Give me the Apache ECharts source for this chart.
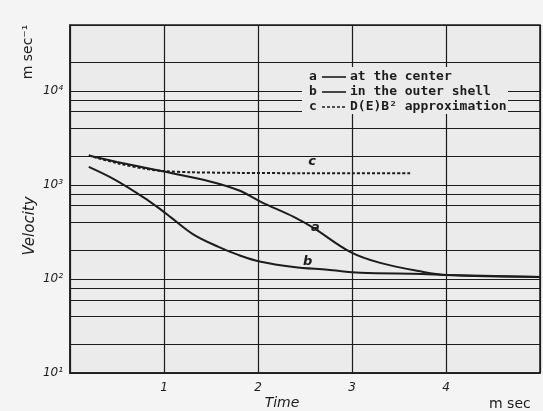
<!DOCTYPE html>
<html>
<head>
<meta charset="utf-8">
<style>
  html, body { margin: 0; padding: 0; background: #f4f4f4; }
  #chart { width: 543px; height: 411px; }
</style>
<script src="https://cdn.jsdelivr.net/npm/echarts@6/dist/echarts.min.js"></script>
</head>
<body>
<div id="chart"></div>
<script>
// Velocity (m sec^-1) against time (m sec), log scale
const timeA = [0.2, 0.5, 0.97, 1.5, 1.8, 2.03, 2.38, 2.59, 2.98, 3.3, 3.75, 4.0, 5.0];
const velA  = [2050, 1750, 1400, 1080, 870, 660, 457, 349, 194, 148, 119, 110, 105];

const timeB = [0.2, 0.48, 0.79, 0.97, 1.08, 1.32, 1.58, 1.79, 2.03, 2.38, 2.74, 3.09, 3.75, 4.0, 5.0];
const velB  = [1550, 1130, 728, 542, 446, 294, 219, 180, 152, 134, 125, 116, 113, 110, 105];

const timeC = [0.2, 0.5, 0.8, 1.0, 1.3, 1.8, 2.5, 3.0, 3.62];
const velC  = [2050, 1700, 1480, 1400, 1360, 1340, 1330, 1330, 1330];

// intermediate log grid lines (2, 4, 6, 8 of each decade)
const minorGrid = [20, 40, 60, 80, 200, 400, 600, 800, 2000, 4000, 6000, 8000, 20000];
const xTicks = [1, 2, 3, 4];

const ink = '#1c1c1c';
const sup = { '1': '¹', '2': '²', '3': '³', '4': '⁴' };

const curveLabelStyle = {
  show: true, color: ink, fontSize: 13, fontFamily: 'DejaVu Sans', fontStyle: 'italic', fontWeight: 'bold', opacity: 1
};

// curve letters, each anchored on a point of its own curve
const curveTags = [
  { value: [timeC[6], velC[6]], label: Object.assign({ formatter: 'c', position: 'top', offset: [7, 0] }, curveLabelStyle) },
  { value: [timeA[7], velA[7]], label: Object.assign({ formatter: 'a', position: 'inside', offset: [2, 0] }, curveLabelStyle) },
  { value: [timeB[9], velB[9]], label: Object.assign({ formatter: 'b', position: 'top', offset: [14, 6] }, curveLabelStyle) }
];

const legendFont = 'bold 13px "DejaVu Sans Mono"';

const chart = echarts.init(document.getElementById('chart'));
chart.setOption({
  animation: false,
  backgroundColor: '#f4f4f4',
  grid: {
    left: 70, right: 1, top: 25, bottom: 38,
    show: true, backgroundColor: '#ebebeb', borderColor: ink, borderWidth: 1.5
  },
  xAxis: {
    type: 'value', min: 0, max: 5, interval: 1,
    axisLine: { show: true, onZero: false, lineStyle: { color: ink, width: 1.5 } },
    axisTick: { show: false },
    splitLine: { show: true, lineStyle: { color: ink, width: 1.2 } },
    axisLabel: {
      margin: 9, color: ink, fontSize: 12, fontStyle: 'italic', fontFamily: 'DejaVu Sans',
      formatter: v => (xTicks.indexOf(v) >= 0 ? String(v) : '')
    }
  },
  yAxis: {
    type: 'log', logBase: 10, min: 10, max: 50000,
    axisLine: { show: true, lineStyle: { color: ink, width: 1.5 } },
    axisTick: { show: false },
    splitLine: { show: true, lineStyle: { color: ink, width: 1.2 } },
    axisLabel: {
      margin: 7, color: ink, fontSize: 12, fontStyle: 'italic', fontFamily: 'DejaVu Sans',
      formatter: v => {
        const e = Math.round(Math.log10(v));
        return Math.abs(Math.log10(v) - e) < 1e-6 && sup[String(e)] ? '10' + sup[String(e)] : '';
      }
    }
  },
  series: [
    {
      name: 'c', type: 'line', smooth: 0.3, symbol: 'none',
      lineStyle: { color: ink, width: 2, type: [3, 2] },
      data: timeC.map((x, i) => [x, velC[i]]),
      markLine: {
        silent: true, symbol: 'none', label: { show: false },
        lineStyle: { color: ink, width: 1.2, type: 'solid' },
        data: minorGrid.map(v => ({ yAxis: v }))
      },
      z: 3
    },
    {
      name: 'a', type: 'line', smooth: 0.35, symbol: 'none',
      lineStyle: { color: ink, width: 2 },
      data: timeA.map((x, i) => [x, velA[i]]),
      z: 4
    },
    {
      name: 'b', type: 'line', smooth: 0.35, symbol: 'none',
      lineStyle: { color: ink, width: 2 },
      data: timeB.map((x, i) => [x, velB[i]]),
      z: 4
    },
    {
      name: 'tags', type: 'scatter', symbolSize: 0, silent: true,
      itemStyle: { color: ink, opacity: 1 },
      data: curveTags, z: 5
    }
  ],
  graphic: [
    { type: 'rect', left: 302, top: 67, shape: { width: 206, height: 47 }, style: { fill: '#ebebeb' }, z: 10 },
    { type: 'text', left: 309, top: 70, style: { text: 'a', fill: ink, font: legendFont }, z: 11 },
    { type: 'line', shape: { x1: 322, y1: 77, x2: 346, y2: 77 }, style: { stroke: ink, lineWidth: 1.6 }, z: 11 },
    { type: 'text', left: 350, top: 70, style: { text: 'at the center', fill: ink, font: legendFont }, z: 11 },
    { type: 'text', left: 309, top: 85, style: { text: 'b', fill: ink, font: legendFont }, z: 11 },
    { type: 'line', shape: { x1: 322, y1: 92, x2: 346, y2: 92 }, style: { stroke: ink, lineWidth: 1.6 }, z: 11 },
    { type: 'text', left: 350, top: 85, style: { text: 'in the outer shell', fill: ink, font: legendFont }, z: 11 },
    { type: 'text', left: 309, top: 100, style: { text: 'c', fill: ink, font: legendFont }, z: 11 },
    { type: 'line', shape: { x1: 322, y1: 107, x2: 346, y2: 107 }, style: { stroke: ink, lineWidth: 1.6, lineDash: [3, 2] }, z: 11 },
    { type: 'text', left: 350, top: 100, style: { text: 'D(E)B² approximation', fill: ink, font: legendFont }, z: 11 },
    { type: 'text', x: 30, y: 226, rotation: Math.PI / 2, style: { text: 'Velocity', fill: ink, font: 'italic 15px "DejaVu Sans"', align: 'center', verticalAlign: 'middle' } },
    { type: 'text', x: 28, y: 52, rotation: Math.PI / 2, style: { text: 'm sec⁻¹', fill: ink, font: '14px "DejaVu Sans"', align: 'center', verticalAlign: 'middle' } },
    { type: 'text', x: 282, y: 403, style: { text: 'Time', fill: ink, font: 'italic 14px "DejaVu Sans"', align: 'center', verticalAlign: 'middle' } },
    { type: 'text', x: 489, y: 404, style: { text: 'm sec', fill: ink, font: '14px "DejaVu Sans"', align: 'left', verticalAlign: 'middle' } }
  ]
});
</script>
</body>
</html>
